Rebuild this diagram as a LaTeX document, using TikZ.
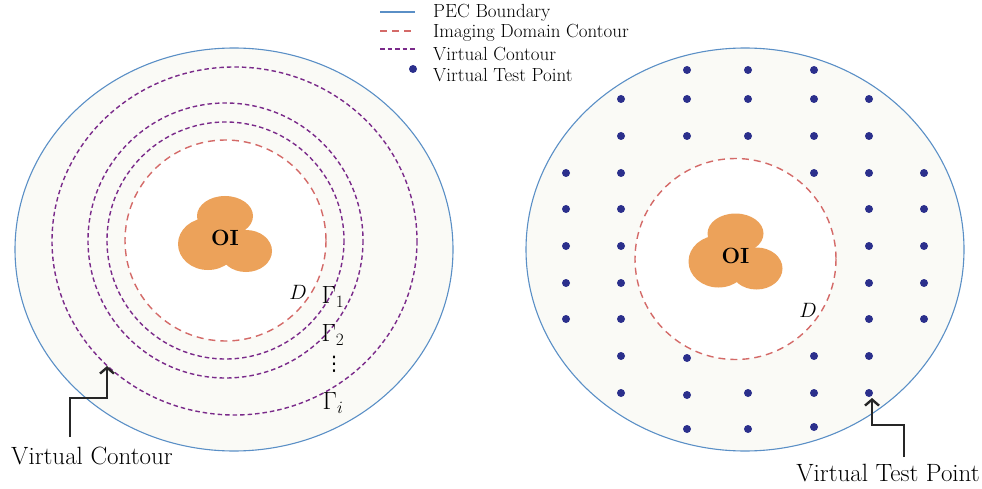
\documentclass[tikz,border=0pt]{standalone}
\usepackage{fontspec}
\newfontfamily\dvsans{DejaVu Sans}
\usetikzlibrary{arrows.meta}
\definecolor{pecblue}{HTML}{5A8FC6}
\definecolor{imgred}{HTML}{D46A68}
\definecolor{virtpurple}{HTML}{7A2A8A}
\definecolor{dotblue}{HTML}{2B2F8C}
\definecolor{oiorange}{HTML}{ECA25A}
\definecolor{cream}{HTML}{FAFAF6}
\tikzset{
  pec/.style={draw=pecblue, line width=1.1pt, fill=cream},
  imgdom/.style={draw=imgred, line width=1.4pt, dash pattern=on 7pt off 5pt, fill=white},
  virt/.style={draw=virtpurple, line width=1.4pt, dash pattern=on 4.5pt off 3pt},
  vdot/.style={circle, fill=dotblue, inner sep=0pt, minimum size=8pt},
  lbl/.style={font=\fontsize{19}{22}\selectfont, anchor=west, inner sep=0pt},
  bigl/.style={font=\fontsize{25}{28}\selectfont, inner sep=0pt},
  gam/.style={font=\fontsize{27}{29}\selectfont, inner sep=0pt},
  dlab/.style={font=\fontsize{21}{23}\selectfont, inner sep=0pt},
  callout/.style={draw=black!85, line width=2.4pt, -{Straight Barb[length=6pt,width=14pt]}},
  blob/.pic={
    \fill[oiorange] (0,-22) ellipse (28 and 20);
    \fill[oiorange] (-17,6) ellipse (30 and 26);
    \fill[oiorange] (21,13) ellipse (26 and 21);
    \node[font=\fontsize{22}{24}\selectfont\bfseries] (-oi) at (0,0) {OI};
  }
}
\begin{document}
\begin{tikzpicture}[x=1pt,y=-1pt]
\useasboundingbox (0,0) rectangle (982,489);
% ---------- left panel ----------
\path[pec] (234,249.5) ellipse (219 and 201.5);
\path[virt] (234.5,241) ellipse (182.5 and 174);
\path[virt] (225.5,240.5) circle (137.5);
\path[virt] (225.5,240.5) circle (118.5);
\path[imgdom] (225.5,240.5) circle (100.5);
\pic (blobL) at (225,238) {blob};
\node[dlab] (dL) at (298,292) {$D$};
\node[gam] (g1) at (333,297) {$\Gamma_1$};
\node[gam] (g2) at (333,335) {$\Gamma_2$};
\node[font=\fontsize{20}{22}\dvsans, inner sep=0pt] (gd) at (334,364) {⋮};
\node[gam] (gi) at (333,403) {$\Gamma_i$};
\node[bigl] (vcl) at (92,456) {Virtual Contour};
\coordinate (vcs) at (70,437);
\coordinate (vce) at (107,366);
\draw[callout] (vcs) |- (107,398) -- (vce);
% ---------- right panel ----------
\path[pec] (745,249.5) ellipse (219 and 201.5);
\path[imgdom] (735.5,259) circle (100.5);
\pic (blobR) at (735.5,255.5) {blob};
\node[dlab] (dR) at (808,310) {$D$};
\foreach \x/\y [count=\i] in {
 687/70,748/70,814/70,
 621/99,687/99,748/99,814/99,869/99,
 621/136,687/136,748/136,814/136,869/136,
 566/173,621/173,814/173,869/173,924/173,
 566/209,621/209,869/209,924/209,
 566/246,621/246,869/246,924/246,
 566/283,621/283,869/283,924/283,
 566/319,621/319,869/319,924/319,
 621/356,687/358,814/356,869/356,
 621/393,687/395,748/393,814/393,869/393,
 687/429,748/429,814/427}
  \node[vdot] (p\i) at (\x,\y) {};
\node[bigl] (vtl) at (888,473) {Virtual Test Point};
\coordinate (vts) at (904,457);
\coordinate (vte) at (872,398);
\draw[callout] (vts) |- (872,425) -- (vte);
% ---------- legend ----------
\coordinate (l1a) at (380,12); \coordinate (l1b) at (415,12);
\coordinate (l2a) at (380,31); \coordinate (l2b) at (415,31);
\coordinate (l3a) at (380,49); \coordinate (l3b) at (415,49);
\draw[draw=pecblue, line width=1.1pt] (l1a) -- (l1b);
\draw[draw=imgred, line width=1.4pt, dash pattern=on 7pt off 5pt] (l2a) -- (l2b);
\draw[virt] (l3a) -- (l3b);
\node[vdot] (ld) at (413,69) {};
\node[lbl] (t1) at (433,13) {PEC Boundary};
\node[lbl] (t2) at (433,33) {Imaging Domain Contour};
\node[lbl] (t3) at (433,54) {Virtual Contour};
\node[lbl] (t4) at (433,75) {Virtual Test Point};
\end{tikzpicture}
\end{document}
